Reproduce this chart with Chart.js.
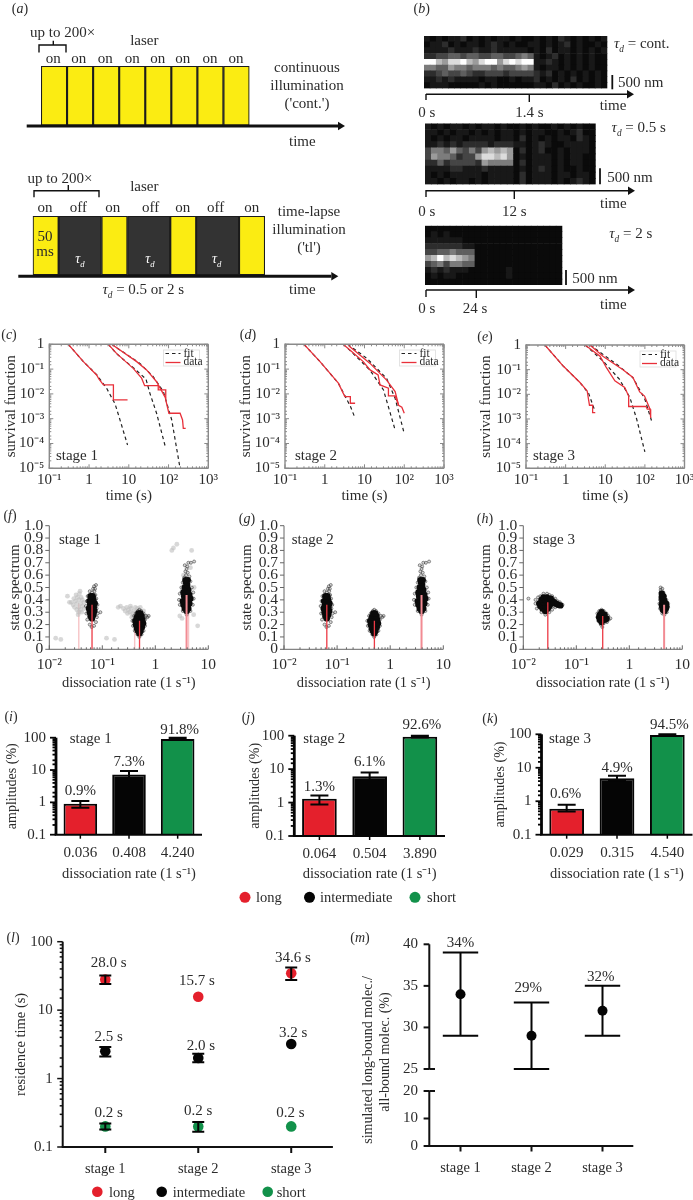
<!DOCTYPE html>
<html>
<head>
<meta charset="utf-8">
<script src="https://cdn.jsdelivr.net/npm/chart.js@4"></script>
<style>
  html, body { margin: 0; background: #fff; }
  #page { position: relative; width: 693px; height: 1200px; overflow: hidden; font-family: "Liberation Serif", serif; color: #2b2b2b; filter: blur(0.3px); }
  #page canvas { position: absolute; }
  .note { position: absolute; white-space: nowrap; line-height: 1; transform: translate(-50%, -50%); }
  .note.left { transform: translate(0, -50%); }
  sub { font-size: .62em; line-height: 0; }
</style>
</head>
<body>
<div id="page"></div>
<script>
// ---- data ----

// (a) illumination schemes, lengths of the frames
const contFrames = [1, 1, 1, 1, 1, 1, 1, 1];
const lapseFrames = [1, 1.65, 1, 1.65, 1, 1.65, 1];

// (b) kymographs, one string per pixel row, 0-9 brightness
const kymoCont = [
  '101011201010110100101021010101',
  '011201011012101001101012010010',
  '111121112112111110102011010101',
  '223344344334433454101201010100',
  '997688976899689899112101010100',
  '554465545554544565101101010100',
  '223433432233323333212010101010',
  '112121111011001011201010201010',
  '011100000101000000110201010010',
];
const kymoHalf = [
  '101011010110100101001010100',
  '110101101010110101100101200',
  '101011011110110201010110210',
  '112121222212221101210011110',
  '355464353676760201200101110',
  '365542336887860101110101100',
  '224233332655550201110101100',
  '111122111211110101210100100',
  '101011111011110201110110110',
  '110101101011110201110101210',
];
const kymoTwo = [
  '0000000000000000000000',
  '0101000000000000000000',
  '1111110000000000000000',
  '2222221100000000000000',
  '3344544400000000000000',
  '6797876500000000000000',
  '3453554400000000000000',
  '1212111000000100000000',
  '0101100000000100000000',
  '0000000000000000000000',
];

// (c)-(e) survival functions, [time, survival]
const s1DataA = [[0.3,1],[0.72,0.2],[1.55,0.058],[1.78,0.039],[2.3,0.023],[4.1,0.023],[4.1,0.0057],[9.3,0.0057]];
const s1FitA = [[0.3,1],[0.72,0.2],[1.55,0.06],[2.76,0.017],[4.5,0.004],[6,0.0009],[9.3,0.000087]];
const s1DataB = [[3.05,1],[4.9,0.43],[12.9,0.107],[21,0.043],[25,0.0215],[55,0.0215],[55,0.0145],[85,0.0145],[85,0.0057],[102,0.00166],[195,0.00166],[225,0.00089],[235,0.00041],[270,0.00041]];
const s1FitB = [[3.05,1],[4.9,0.42],[12.9,0.115],[27,0.04],[34,0.0105],[50,0.00166],[85,0.000064]];
const s1DataC = [[3.7,1],[15.8,0.2],[28,0.093],[50,0.031],[85,0.0066]];
const s1FitC = [[3.7,1],[19,0.17],[41,0.05],[74,0.0125],[120,0.0009],[195,0.00001]];

const s2DataA = [[0.3,1],[0.76,0.2],[2.2,0.027],[3.2,0.0078],[4.4,0.0078],[4.4,0.0042],[5.8,0.0042]];
const s2FitA = [[0.3,1],[0.76,0.2],[2.2,0.027],[3.2,0.0085],[4.4,0.0032],[5.8,0.00105]];
const s2DataB = [[2.9,1],[4.3,0.59],[9.3,0.2],[13.8,0.093],[22,0.058],[24.6,0.023],[40,0.017],[40,0.0083],[59,0.0083],[72,0.0035],[87,0.0029],[100,0.00166]];
const s2FitB = [[2.9,1],[4.3,0.57],[13.8,0.09],[30,0.0145],[59,0.00035]];
const s2DataC = [[3.8,1],[4.3,0.8],[13.8,0.17],[36,0.036],[59,0.0125],[72,0.0035]];
const s2FitC = [[3.8,1],[11.5,0.27],[36,0.042],[59,0.0066],[100,0.00025]];

const s3DataA = [[0.3,1],[0.87,0.14],[2.3,0.03],[3.5,0.0137],[4,0.0036],[4.8,0.0036],[4.8,0.0018],[5.6,0.0018]];
const s3FitA = [[0.3,1],[0.87,0.14],[2.3,0.03],[3.8,0.011],[5.5,0.0021]];
const s3DataB = [[3.1,1],[7.4,0.35],[10.7,0.12],[17.5,0.035],[31,0.019],[39,0.0085],[39,0.0032],[107,0.0032],[115,0.0025],[135,0.0025],[140,0.0011]];
const s3FitB = [[3.1,1],[8.9,0.22],[23,0.04],[42,0.0073],[62,0.001],[100,0.000046]];
const s3DataC = [[4.1,1],[8.9,0.34],[28,0.1],[50,0.048],[74,0.0125],[98,0.0085],[135,0.0025]];
const s3FitC = [[4.1,1],[19.5,0.165],[50,0.047],[100,0.0063],[148,0.00083]];

// (f)-(h) state spectrum, [rate, spectrum]
const stage1Grey = [
  [0.036,0.30],[0.033,0.32],[0.039,0.32],[0.030,0.34],[0.036,0.34],[0.042,0.35],[0.028,0.36],[0.033,0.37],[0.039,0.37],[0.045,0.38],
  [0.026,0.38],[0.031,0.39],[0.036,0.40],[0.042,0.40],[0.029,0.41],[0.034,0.42],[0.040,0.42],[0.032,0.44],[0.037,0.45],[0.035,0.28],
  [0.041,0.30],[0.022,0.43],[0.024,0.38],[0.046,0.33],[0.038,0.47],[0.0132,0.09],[0.0165,0.08],
  [0.20,0.34],[0.22,0.35],[0.25,0.33],[0.27,0.31],[0.29,0.34],[0.31,0.32],[0.33,0.30],[0.35,0.33],[0.37,0.29],[0.38,0.27],[0.40,0.31],
  [0.42,0.34],[0.44,0.30],[0.46,0.33],[0.48,0.28],[0.50,0.31],[0.54,0.30],[0.60,0.31],[0.66,0.27],[0.30,0.29],[0.36,0.26],[0.42,0.25],
  [0.34,0.35],[0.52,0.34],[0.62,0.26],[0.12,0.09],[0.17,0.08],
  [2.05,0.80],[2.2,0.82],[2.55,0.85],[4.85,0.80],[6.3,0.19],[2.9,0.27],[3.2,0.25],[5.3,0.28],[3.4,0.6],[4.6,0.66],[3.2,0.47],[5.4,0.5],
];
const stage2Core = [
  [0.064,0.25],[0.060,0.27],[0.068,0.28],[0.058,0.30],[0.066,0.30],[0.071,0.31],[0.062,0.33],[0.056,0.33],[0.069,0.34],[0.065,0.36],
  [0.059,0.36],[0.072,0.37],[0.063,0.38],[0.057,0.39],[0.068,0.40],[0.062,0.41],[0.066,0.43],[0.060,0.43],
  [0.50,0.13],[0.47,0.15],[0.53,0.15],[0.45,0.17],[0.50,0.18],[0.56,0.18],[0.43,0.20],[0.48,0.20],[0.53,0.21],[0.59,0.21],[0.42,0.23],
  [0.47,0.24],[0.52,0.24],[0.57,0.24],[0.45,0.26],[0.50,0.27],[0.55,0.27],[0.48,0.29],[0.52,0.29],
  [3.9,0.31],[3.6,0.33],[4.2,0.33],[3.4,0.36],[3.9,0.36],[4.4,0.37],[3.3,0.39],[3.7,0.40],[4.2,0.40],[4.6,0.41],[3.5,0.43],[3.9,0.44],
  [4.4,0.44],[3.4,0.46],[3.8,0.48],[4.2,0.48],[3.6,0.50],[4.0,0.52],[3.8,0.54],[4.1,0.56],[3.7,0.56],
];
const stage2Edge = [
  [0.063,0.18],[0.058,0.20],[0.070,0.19],[0.076,0.22],[0.052,0.24],[0.079,0.26],[0.050,0.29],[0.082,0.29],[0.078,0.33],[0.049,0.35],
  [0.081,0.36],[0.051,0.39],[0.077,0.41],[0.053,0.43],[0.074,0.44],[0.071,0.47],[0.064,0.46],[0.058,0.47],[0.067,0.49],[0.073,0.49],
  [0.070,0.51],[0.076,0.52],[0.092,0.30],
  [0.50,0.10],[0.46,0.12],[0.55,0.12],[0.41,0.15],[0.60,0.15],[0.38,0.19],[0.64,0.19],[0.37,0.23],[0.64,0.24],[0.71,0.26],[0.67,0.27],
  [0.40,0.27],[0.43,0.29],[0.60,0.29],[0.47,0.31],[0.54,0.31],[0.50,0.32],[0.75,0.27],
  [3.9,0.28],[3.3,0.31],[4.6,0.31],[2.9,0.36],[5.1,0.36],[2.8,0.40],[5.3,0.41],[2.9,0.45],[5.2,0.46],[3.1,0.50],[4.9,0.50],[3.3,0.54],
  [4.6,0.55],[3.5,0.58],[4.4,0.59],[3.8,0.60],[4.1,0.62],[3.7,0.63],[3.9,0.65],[4.0,0.67],[3.6,0.68],[4.7,0.70],[5.4,0.71],[4.2,0.70],
];
const stage3Core = [
  [0.026,0.31],[0.023,0.33],[0.029,0.33],[0.021,0.35],[0.026,0.35],[0.031,0.35],[0.020,0.37],[0.024,0.38],[0.029,0.38],[0.034,0.37],
  [0.022,0.40],[0.026,0.40],[0.031,0.40],[0.036,0.39],[0.024,0.42],[0.028,0.42],[0.033,0.41],[0.041,0.37],[0.038,0.38],[0.045,0.36],[0.050,0.355],
  [0.30,0.22],[0.28,0.24],[0.32,0.24],[0.35,0.24],[0.27,0.26],[0.30,0.26],[0.33,0.26],[0.37,0.25],[0.28,0.28],[0.31,0.28],[0.34,0.28],[0.30,0.30],
  [4.6,0.31],[4.3,0.32],[4.9,0.33],[4.2,0.34],[4.6,0.34],[5.0,0.35],[4.1,0.36],[4.5,0.37],[4.9,0.37],[4.2,0.39],[4.5,0.40],[4.1,0.42],[4.4,0.43],[4.1,0.45],
];
const stage3Edge = [
  [0.026,0.28],[0.022,0.30],[0.031,0.30],[0.018,0.33],[0.035,0.32],[0.017,0.37],[0.040,0.34],[0.017,0.40],[0.019,0.42],[0.021,0.43],
  [0.024,0.45],[0.028,0.45],[0.031,0.44],[0.035,0.43],[0.040,0.41],[0.044,0.39],[0.049,0.38],[0.053,0.35],[0.055,0.36],[0.0125,0.41],[0.037,0.35],
  [0.31,0.18],[0.29,0.20],[0.33,0.21],[0.26,0.23],[0.38,0.22],[0.25,0.26],[0.41,0.24],[0.44,0.25],[0.40,0.27],[0.25,0.29],[0.37,0.29],[0.27,0.31],[0.33,0.31],[0.30,0.32],
  [4.6,0.28],[4.2,0.29],[5.1,0.30],[3.8,0.33],[5.4,0.34],[3.7,0.37],[5.4,0.37],[3.8,0.40],[5.0,0.40],[3.9,0.43],[4.7,0.43],[3.9,0.46],[4.4,0.46],[3.9,0.48],[4.2,0.49],[3.9,0.50],
];
const stage1Rates = [0.036, 0.408, 4.24];
const stage1Heights = [0.37, 0.28, 0.38];
const stage2Rates = [0.064, 0.504, 3.89];
const stage2Heights = [0.36, 0.23, 0.44];
const stage3Rates = [0.029, 0.315, 4.54];
const stage3Heights = [0.38, 0.27, 0.36];

// (i)-(k) amplitudes
const stage1Labels = ['0.036', '0.408', '4.240'];
const stage1Amp = [0.9, 7.3, 91.8];
const stage1Lo = [0.68, 5.7, 88];
const stage1Hi = [1.1, 9.3, 100];
const stage1Text = ['0.9%', '7.3%', '91.8%'];
const stage2Labels = ['0.064', '0.504', '3.890'];
const stage2Amp = [1.3, 6.1, 92.6];
const stage2Lo = [0.88, 4.7, 88];
const stage2Hi = [1.64, 7.9, 100];
const stage2Text = ['1.3%', '6.1%', '92.6%'];
const stage3Labels = ['0.029', '0.315', '4.540'];
const stage3Amp = [0.6, 4.9, 94.5];
const stage3Lo = [0.49, 4.2, 90];
const stage3Hi = [0.78, 5.75, 100];
const stage3Text = ['0.6%', '4.9%', '94.5%'];

// (l) residence times
const stages = ['stage 1', 'stage 2', 'stage 3'];
const longTime = [28.0, 15.7, 34.6];
const longLo = [24, null, 27.6];
const longHi = [32, null, 42];
const longText = ['28.0 s', '15.7 s', '34.6 s'];
const interTime = [2.5, 2.0, 3.2];
const interLo = [2.1, 1.73, null];
const interHi = [2.9, 2.3, null];
const interText = ['2.5 s', '2.0 s', '3.2 s'];
const shortTime = [0.2, 0.2, 0.2];
const shortLo = [0.18, 0.167, null];
const shortHi = [0.22, 0.232, null];
const shortText = ['0.2 s', '0.2 s', '0.2 s'];

// (m) simulated long-bound fraction
const simFraction = [34, 29, 32];
const simLo = [29, 25, 29];
const simHi = [39, 33, 35];
const simText = ['34%', '29%', '32%'];

// ---- colours ----
const RED = '#e4202c';
const BLACK = '#050505';
const GREEN = '#12914a';
const YELLOW = '#fbec12';

// ---- helpers ----
Chart.defaults.font.family = '"Liberation Serif", serif';
Chart.defaults.font.size = 15;
Chart.defaults.color = '#2b2b2b';

const page = document.getElementById('page');
const xy = pairs => pairs.map(p => ({ x: p[0], y: p[1] }));

function isDecade(v) {
  const e = Math.log10(v);
  return Math.abs(e - Math.round(e)) < 1e-6;
}
function powerLabel(v) {
  if (!isDecade(v)) return '';
  const e = Math.round(Math.log10(v));
  if (e === 0) return '1';
  if (e === 1) return '10';
  const sup = { '-': '⁻', 1: '¹', 2: '²', 3: '³', 4: '⁴', 5: '⁵' };
  return '10' + String(e).split('').map(c => sup[c]).join('');
}
function plainLogLabel(v) {
  if (!isDecade(v)) return '';
  return v < 1 ? '0.1' : String(Math.round(v));
}

// ticks and axis lines are drawn here so they can point inwards, and minor ticks can be shorter
const axisMarks = {
  id: 'axisMarks',
  afterDatasetsDraw(chart, args, o) {
    if (!o.color) return;
    const { ctx, chartArea: a } = chart;
    const sx = chart.scales.x, sy = chart.scales.y;
    const left = a.left + (o.insetL || 0), right = a.right - (o.insetR || 0);
    ctx.save();
    ctx.strokeStyle = o.color;
    const seg = (x0, y0, x1, y1) => { ctx.beginPath(); ctx.moveTo(x0, y0); ctx.lineTo(x1, y1); ctx.stroke(); };
    const major = (s, t) => s.type !== 'logarithmic' || isDecade(t.value);
    if (o.yw) {
      ctx.lineWidth = o.yw;
      seg(left, a.top - o.yw / 2 * (o.box ? 1 : 0), left, a.bottom);
      ctx.lineWidth = o.ytw || 1;
      sy.ticks.forEach(t => {
        const p = sy.getPixelForValue(t.value);
        const len = major(sy, t) ? o.yMajor : o.yMinor;
        seg(left, p, left + o.yDir * len, p);
        if (o.box) seg(right, p, right - o.yDir * len, p);
        if (o.both && o.both.includes(t.value)) seg(left, p, left + 5.7, p);
      });
    }
    if (o.xw) {
      ctx.lineWidth = o.xw;
      seg(left - (o.yw || 0) / 2, a.bottom, right, a.bottom);
      ctx.lineWidth = o.xtw || 1;
      sx.ticks.forEach(t => {
        const p = sx.getPixelForValue(t.value);
        const len = major(sx, t) ? o.xMajor : o.xMinor;
        seg(p, a.bottom, p, a.bottom + o.xDir * len);
        if (o.box) seg(p, a.top, p, a.top - o.xDir * len);
      });
    }
    if (o.box) {
      ctx.lineWidth = o.yw;
      seg(left, a.top, right, a.top);
      seg(right, a.top, right, a.bottom);
    }
    ctx.restore();
  },
};

// whiskers and the value labels above bars and points, taken from fields on the dataset
const whiskers = {
  id: 'whiskers',
  afterDatasetsDraw(chart) {
    const ctx = chart.ctx, sy = chart.scales.y;
    chart.data.datasets.forEach((ds, i) => {
      const meta = chart.getDatasetMeta(i);
      ctx.save();
      ctx.strokeStyle = '#050505';
      ctx.lineWidth = ds.errWidth || 2;
      if (ds.errLo) ds.errLo.forEach((lo, j) => {
        if (lo == null) return;
        const x = meta.data[j].x, c = ds.errCap;
        const y0 = sy.getPixelForValue(lo), y1 = sy.getPixelForValue(ds.errHi[j]);
        ctx.beginPath();
        ctx.moveTo(x, y0); ctx.lineTo(x, y1);
        ctx.moveTo(x - c, y0); ctx.lineTo(x + c, y0);
        ctx.moveTo(x - c, y1); ctx.lineTo(x + c, y1);
        ctx.stroke();
      });
      if (ds.valueText) {
        ctx.fillStyle = '#2b2b2b';
        ctx.font = '15px "Liberation Serif", serif';
        ctx.textAlign = 'center';
        ctx.textBaseline = 'middle';
        ds.valueText.forEach((txt, j) => {
          const top = ds.errHi && ds.errHi[j] != null ? sy.getPixelForValue(ds.errHi[j]) : meta.data[j].y;
          const markTop = meta.data[j].y - (ds.pointRadius || 0);
          ctx.fillText(txt, meta.data[j].x + (ds.valueDx ? ds.valueDx[j] : 0), Math.min(top, markTop) - ds.valueLift[j]);
        });
      }
      ctx.restore();
    });
  },
};
Chart.register(axisMarks, whiskers);

// put one chart on the page with its plot area at rect (page pixels)
function panel(rect, m, cfg, titles) {
  const cl = Math.floor(rect.l - m.l), ct = Math.floor(rect.t - m.t);
  const w = Math.ceil(rect.r + m.r) - cl, h = Math.ceil(rect.b + m.b) - ct;
  const canvas = document.createElement('canvas');
  canvas.width = w;
  canvas.height = h;
  canvas.style.left = cl + 'px';
  canvas.style.top = ct + 'px';
  page.appendChild(canvas);

  const sc = cfg.options.scales;
  sc.y.afterFit = s => { s.width = rect.l - cl; s.paddingTop = 0; s.paddingBottom = 0; };
  sc.x.afterFit = s => { s.height = ct + h - rect.b; s.paddingLeft = 0; s.paddingRight = 0; };
  sc.x.grid = { display: false, drawTicks: false };
  sc.y.grid = { display: false, drawTicks: false };
  sc.x.border = { display: false };
  sc.y.border = { display: false };
  if (titles && titles.y) {
    const size = titles.y[2] || 14;
    sc.y.title = { display: true, text: titles.y[0], font: { size }, padding: { top: titles.y[1] - cl - size * 0.6, bottom: 0 } };
  }
  if (titles && titles.x) {
    const size = titles.x[2] || 14.5;
    sc.x.title = { display: true, text: titles.x[0], font: { size }, padding: { bottom: ct + h - titles.x[1] - size * 0.6, top: 0 } };
  }
  cfg.options.responsive = false;
  cfg.options.animation = false;
  cfg.options.devicePixelRatio = 1;
  cfg.options.events = [];
  cfg.options.layout = { padding: { top: rect.t - ct, right: cl + w - rect.r, left: 0, bottom: 0 } };
  cfg.options.plugins = cfg.options.plugins || {};
  cfg.options.plugins.legend = { display: false };
  cfg.options.plugins.tooltip = { enabled: false };
  return new Chart(canvas, cfg);
}

const noTicks = { display: false };

function frameChart(rect, frames, colours) {
  const datasets = frames.map((d, i) => ({
    data: [d], backgroundColor: colours[i], borderColor: '#1c1c1c', borderWidth: 1.4,
    barPercentage: 1, categoryPercentage: 1, borderSkipped: false,
  }));
  panel(rect, { l: 2, t: 2, r: 2, b: 2 }, {
    type: 'bar',
    data: { labels: ['frames'], datasets },
    options: {
      indexAxis: 'y',
      scales: {
        x: { stacked: true, min: 0, max: frames.reduce((a, b) => a + b, 0), ticks: noTicks },
        y: { stacked: true, ticks: noTicks },
      },
    },
  });
}

function kymograph(rect, rows) {
  const cols = rows[0].split('').map((c, i) => i);
  const datasets = rows.slice().reverse().map(r => ({
    data: cols.map(() => 1),
    backgroundColor: r.split('').map(c => { const g = Math.round(10 + 245 * Math.pow(Number(c) / 9, 1.3)); return `rgb(${g},${g},${g})`; }),
    barPercentage: 1, categoryPercentage: 1,
  }));
  const chart = panel(rect, { l: 0, t: 0, r: 0, b: 0 }, {
    type: 'bar',
    data: { labels: cols, datasets },
    options: {
      scales: {
        x: { stacked: true, ticks: noTicks },
        y: { stacked: true, min: 0, max: rows.length, ticks: noTicks },
      },
    },
  });
  chart.canvas.style.filter = 'blur(0.6px)';
}

const fitLine = d => ({ data: xy(d), borderColor: '#222', borderWidth: 1.2, borderDash: [3.5, 3], pointRadius: 0, showLine: true });
const dataLine = d => ({ data: xy(d), borderColor: '#e8303a', borderWidth: 1.3, pointRadius: 0, showLine: true });

function survival(rect, yTitleX, curvesFit, curvesData) {
  panel(rect, { l: rect.l - yTitleX + 12, t: 8, r: 10, b: 38 }, {
    type: 'scatter',
    data: { datasets: curvesData.map(dataLine).concat(curvesFit.map(fitLine)) },
    options: {
      scales: {
        x: { type: 'logarithmic', min: 0.1, max: 1000, ticks: { autoSkip: false, maxRotation: 0, padding: 3, callback: powerLabel, font: { size: 15 } } },
        y: { type: 'logarithmic', min: 0.00001, max: 1, ticks: { autoSkip: false, padding: 5, callback: powerLabel, font: { size: 15 } } },
      },
      plugins: { axisMarks: { color: '#8a8a8a', yw: 1.4, xw: 1.4, box: true, yDir: 1, xDir: -1, yMajor: 4, yMinor: 2, xMajor: 4, xMinor: 2 } },
    },
  }, { y: ['survival function', yTitleX, 15], x: ['time (s)', 496, 15] });
}

function spectrum(rect, yTitleX, rates, heights, core, edge, grey) {
  const stems = rates.map((r, i) => ({
    data: xy([[r, 0], [r, heights[i]]]), borderColor: i === 2 ? '#f28b93' : '#ec3a45', borderWidth: i === 2 ? 2 : 1.3, pointRadius: 0, showLine: true,
  }));
  const sets = stems.concat([
    { data: xy(core), backgroundColor: '#0a0a0a', borderWidth: 0, pointRadius: 3.2 },
    { data: xy(edge), backgroundColor: 'rgba(60,60,60,.2)', borderColor: '#444', borderWidth: 0.6, pointRadius: 1.5 },
  ]);
  if (grey) {
    sets.push({ data: xy(grey), backgroundColor: 'rgba(190,190,190,.6)', borderWidth: 0, pointRadius: 2.4 });
    stage1Rates.forEach((r, i) => sets.push({ data: xy([[r, 0], [r, stage1Heights[i]]]), borderColor: '#f7c3c6', borderWidth: 1.4, pointRadius: 0, showLine: true }));
  }
  panel(rect, { l: rect.l - yTitleX + 12, t: 8, r: 12, b: 40 }, {
    type: 'scatter',
    data: { datasets: sets },
    options: {
      scales: {
        x: { type: 'logarithmic', min: 0.01, max: 10, ticks: { autoSkip: false, maxRotation: 0, padding: 6, callback: powerLabel, font: { size: 15.5 } } },
        y: { min: 0, max: 1, ticks: { stepSize: 0.1, autoSkip: false, padding: 6, callback: v => (Math.abs(v) < 1e-9 ? '0' : v.toFixed(1)), font: { size: 15.5 } } },
      },
      plugins: { axisMarks: { color: '#666', yw: 1, xw: 1, yDir: -1, xDir: -1, yMajor: 4, yMinor: 4, xMajor: 4, xMinor: 2 } },
    },
  }, { y: ['state spectrum', yTitleX, 15], x: ['dissociation rate (1 s⁻¹)', 683, 14.5] });
}

function amplitudes(rect, yTitleX, titleY, labels, amp, lo, hi, text, lift, dx) {
  panel(rect, { l: rect.l - yTitleX + 12, t: 24, r: 3, b: 50 }, {
    type: 'bar',
    data: {
      labels,
      datasets: [{
        data: amp, backgroundColor: [RED, BLACK, GREEN], borderColor: '#050505', borderWidth: 2,
        barPercentage: 0.69, categoryPercentage: 1,
        errLo: lo, errHi: hi, errCap: 9, valueText: text, valueLift: lift, valueDx: dx,
      }],
    },
    options: {
      scales: {
        x: { ticks: { maxRotation: 0, padding: 9, font: { size: 15 } } },
        y: { type: 'logarithmic', min: 0.1, max: 100, ticks: { autoSkip: false, padding: 10, callback: plainLogLabel, font: { size: 15 } } },
      },
      plugins: { axisMarks: { color: '#050505', yw: 2.8, xw: 2, yDir: -1, xDir: 1, yMajor: 6, yMinor: 3.5, ytw: 1.8, xMajor: 4, xtw: 1.5 } },
    },
  }, { y: ['amplitudes (%)', yTitleX], x: ['dissociation rate (1 s⁻¹)', titleY] });
}

// ---- panels ----
frameChart({ l: 41, r: 249.5, t: 66, b: 125.5 }, contFrames, contFrames.map(() => YELLOW));
frameChart({ l: 32.7, r: 265, t: 216, b: 275 }, lapseFrames, lapseFrames.map((d, i) => (i % 2 ? '#333333' : YELLOW)));

kymograph({ l: 424, r: 607.4, t: 36, b: 88.4 }, kymoCont);
kymograph({ l: 425, r: 595.7, t: 123.4, b: 184.4 }, kymoHalf);
kymograph({ l: 425, r: 562.4, t: 225.7, b: 285 }, kymoTwo);

survival({ l: 49.3, r: 208.3, t: 344.3, b: 468.3 }, 11, [s1FitA, s1FitB, s1FitC], [s1DataA, s1DataB, s1DataC]);
survival({ l: 285, r: 444, t: 344.3, b: 468.3 }, 246, [s2FitA, s2FitB, s2FitC], [s2DataA, s2DataB, s2DataC]);
survival({ l: 526, r: 684.5, t: 345, b: 468.3 }, 486, [s3FitA, s3FitB, s3FitC], [s3DataA, s3DataB, s3DataC]);

spectrum({ l: 49.3, r: 208.3, t: 525.7, b: 649.3 }, 15, stage2Rates, stage2Heights, stage2Core, stage2Edge, stage1Grey);
spectrum({ l: 284, r: 443.3, t: 525.7, b: 649.3 }, 247, stage2Rates, stage2Heights, stage2Core, stage2Edge);
spectrum({ l: 523.3, r: 682.3, t: 525.7, b: 649.3 }, 486, stage3Rates, stage3Heights, stage3Core, stage3Edge);

amplitudes({ l: 56, r: 202, t: 737.7, b: 834.7 }, 12.7, 874.3, stage1Labels, stage1Amp, stage1Lo, stage1Hi, stage1Text, [10, 8.7, 7.3], [0, 0, 2]);
amplitudes({ l: 294.3, r: 445, t: 735.7, b: 836 }, 255, 874.3, stage2Labels, stage2Amp, stage2Lo, stage2Hi, stage2Text, [8.7, 10, 10.7], [0, 0, 2]);
amplitudes({ l: 541.5, r: 692.5, t: 734.3, b: 834.7 }, 500, 874.3, stage3Labels, stage3Amp, stage3Lo, stage3Hi, stage3Text, [11, 7.7, 9.3], [-1, 0, 2]);

// (l)
const dot = (data, colour, lo, hi, text, lift, dx) => ({
  data, type: 'line', showLine: false, pointRadius: 5.3, pointBackgroundColor: colour, pointBorderWidth: 0,
  errLo: lo, errHi: hi, errCap: 6, valueText: text, valueLift: lift, valueDx: dx,
});
panel({ l: 58.8, r: 337.8, t: 941.7, b: 1147 }, { l: 58.8, t: 10, r: 5, b: 30 }, {
  type: 'line',
  data: {
    labels: stages,
    datasets: [
      dot(longTime, RED, longLo, longHi, longText, [11, 10.7, 9.7], [3.3, -1.3, 1.7]),
      dot(interTime, BLACK, interLo, interHi, interText, [9.3, 6.7, 5.7], [3.3, 2.7, 2]),
      dot(shortTime, GREEN, shortLo, shortHi, shortText, [7.7, 10, 7.7], [3.3, 0, -0.7]),
    ],
  },
  options: {
    scales: {
      x: { offset: true, ticks: { maxRotation: 0, padding: 13, font: { size: 14.5 } } },
      y: { type: 'logarithmic', min: 0.1, max: 100, ticks: { autoSkip: false, padding: 6, callback: plainLogLabel, font: { size: 15 } } },
    },
    plugins: { axisMarks: { color: '#111', yw: 2, xw: 2, insetL: 3.9, insetR: 4.8, yDir: -1, xDir: 1, yMajor: 5.5, yMinor: 3, ytw: 1.5, xMajor: 6, xtw: 2 } },
  },
}, { y: ['residence time (s)', 21, 14.5] });

// (m) broken axis: the top piece holds the points, the bottom piece is only the axis
panel({ l: 425, r: 638, t: 944.3, b: 1073.7 }, { l: 30, t: 14, r: 5, b: 0 }, {
  type: 'line',
  data: {
    labels: stages,
    datasets: [{
      data: simFraction, showLine: false, pointRadius: 5, pointBackgroundColor: BLACK, pointBorderWidth: 0,
      errLo: simLo, errHi: simHi, errCap: 17.7, valueText: simText, valueLift: [10, 14, 9.3], valueDx: [0, -3.3, -1.7],
    }],
  },
  options: {
    scales: {
      x: { offset: true, ticks: noTicks },
      y: { min: 25, max: 40, ticks: { stepSize: 5, padding: 7, font: { size: 15 } } },
    },
    plugins: { axisMarks: { color: '#111', yw: 2, insetL: 4.3, insetR: 4.7, yDir: -1, yMajor: 5.7, ytw: 2, both: [25] } },
  },
});
panel({ l: 425, r: 638, t: 1091, b: 1146 }, { l: 30, t: 8, r: 5, b: 30 }, {
  type: 'line',
  data: { labels: stages, datasets: [{ data: [null, null, null] }] },
  options: {
    scales: {
      x: { offset: true, ticks: { maxRotation: 0, padding: 13, font: { size: 14.5 } } },
      y: { min: 0, max: 20, ticks: { stepSize: 5, padding: 7, font: { size: 15 } } },
    },
    plugins: { axisMarks: { color: '#111', yw: 2, xw: 2, insetL: 4.3, insetR: 4.7, yDir: -1, xDir: 1, yMajor: 5.7, ytw: 2, xMajor: 5.5, xtw: 2, both: [20] } },
  },
});

// ---- arrows, brackets, keys ----
const decor = document.createElement('canvas');
decor.width = 693;
decor.height = 1200;
decor.style.left = '0';
decor.style.top = '0';
page.appendChild(decor);
const d = decor.getContext('2d');

function path(points, width, colour) {
  d.beginPath();
  d.strokeStyle = colour || '#111';
  d.lineWidth = width;
  points.forEach((p, i) => (i ? d.lineTo(p[0], p[1]) : d.moveTo(p[0], p[1])));
  d.stroke();
}
function arrow(x0, x1, y, width, head) {
  path([[x0, y], [x1 - head, y]], width);
  d.beginPath();
  d.fillStyle = '#111';
  d.moveTo(x1, y);
  d.lineTo(x1 - head, y - head * 0.6);
  d.lineTo(x1 - head, y + head * 0.6);
  d.fill();
}
function bracket(x0, x1, top, bottom, midX, peak) {
  path([[x0, bottom], [x0, top], [x1, top], [x1, bottom]], 1.4);
  path([[midX, top], [midX, peak]], 1.4);
}
function disc(x, y, r, colour) {
  d.beginPath();
  d.fillStyle = colour;
  d.arc(x, y, r, 0, Math.PI * 2);
  d.fill();
}

arrow(26.7, 345, 126, 3, 7);
arrow(18.3, 338.3, 276.3, 3, 7);
bracket(39, 66, 45, 52.5, 53.3, 40.7);
bracket(34, 99, 190.7, 197.3, 68.3, 185);

arrow(426, 634, 94.3, 1.6, 7);
path([[426, 94], [426, 100]], 1.4); path([[529.3, 94], [529.3, 102]], 1.4);
path([[612.3, 75], [612.3, 89.3]], 1.8);
arrow(426, 635, 190.7, 1.6, 7);
path([[426, 190], [426, 197]], 1.4); path([[514.3, 190], [514.3, 199]], 1.4);
path([[600, 168.3], [600, 184.3]], 1.8);
arrow(426, 635, 290, 1.6, 7);
path([[426, 290], [426, 297]], 1.4); path([[476.3, 290], [476.3, 298]], 1.4);
path([[566, 270], [566, 285]], 1.8);

function fitKey(x, y) {
  d.fillStyle = '#fff';
  d.fillRect(x, y, 36, 16);
  d.strokeStyle = '#ddd';
  d.lineWidth = 0.8;
  d.strokeRect(x, y, 36, 16);
  d.setLineDash([3.5, 3]);
  path([[x + 2, y + 3.5], [x + 17, y + 3.5]], 1.2, '#222');
  d.setLineDash([]);
  path([[x + 2, y + 12.5], [x + 17, y + 12.5]], 1.3, '#e8303a');
}
fitKey(163.5, 350);
fitKey(399.5, 350);
fitKey(640, 351);

disc(245, 897.3, 5.5, RED); disc(309.5, 897.3, 5.5, BLACK); disc(415, 897.3, 5.5, GREEN);
disc(97.3, 1191.7, 5.3, RED); disc(161.7, 1191.7, 5.3, BLACK); disc(267.7, 1191.7, 5.3, GREEN);

// ---- text ----
function note(html, x, y, size, extra) {
  const el = document.createElement('div');
  el.className = 'note' + (extra && extra.left ? ' left' : '');
  el.innerHTML = html;
  el.style.left = x + 'px';
  el.style.top = y + 'px';
  el.style.fontSize = (size || 15) + 'px';
  if (extra && extra.color) el.style.color = extra.color;
  if (extra && extra.rot) el.style.transform = 'translate(-50%,-50%) rotate(-90deg)';
  page.appendChild(el);
}
const TAU = '<i>τ<sub>d</sub></i>';

[['a', 20, 9], ['b', 421.7, 9], ['c', 9, 335], ['d', 248, 335], ['e', 485, 336.7], ['f', 10, 515.7], ['g', 247, 519], ['h', 485, 519.3],
 ['i', 11, 716.7], ['j', 248.3, 717.7], ['k', 490, 719], ['l', 13, 938.3], ['m', 360, 938.3]]
  .forEach(p => note(`(<i>${p[0]}</i>)`, p[1], p[2], 14));

note('up to 200×', 62.7, 32.3);
note('laser', 144.3, 40);
[53.3, 78.7, 105.3, 132.3, 157.7, 182.7, 210, 236].forEach(x => note('on', x, 58.3));
note('continuous', 307, 67.3);
note('illumination', 307, 85);
note("('cont.')", 307, 103.3);
note('time', 302.3, 141);

note('up to 200×', 60, 178.3);
note('laser', 144.3, 186);
[[45, 'on'], [78.3, 'off'], [112.7, 'on'], [150.7, 'off'], [182.7, 'on'], [215.7, 'off'], [251.7, 'on']].forEach(p => note(p[1], p[0], 207.3));
note('time-lapse', 309, 211);
note('illumination', 309, 229);
note("('tl')", 309, 247.3);
note('50', 45, 236);
note('ms', 45, 250.7);
[80, 150, 216.7].forEach(x => note(TAU, x, 258.5, 14, { color: '#fff' }));
note(TAU + ' = 0.5 or 2 s', 143.3, 289.3);
note('time', 302.3, 288.7);

note(TAU + ' = cont.', 641.7, 43);
note('500 nm', 640.7, 81.7);
note('0 s', 426.7, 112);
note('1.4 s', 529.3, 112);
note('time', 613, 105);
note(TAU + ' = 0.5 s', 638.7, 126.7);
note('500 nm', 630, 176.7);
note('0 s', 426.7, 210.7);
note('12 s', 514.3, 210.7);
note('time', 613.3, 202.7);
note(TAU + ' = 2 s', 630.7, 233.3);
note('500 nm', 595, 278.3);
note('0 s', 426.7, 308);
note('24 s', 475, 308);
note('time', 613.3, 304);

[[77, 455], [316, 455], [554, 455], [80, 539], [312.7, 539], [554, 539], [90.7, 737.7], [324.3, 738.3], [570, 738.3]]
  .forEach((p, i) => note('stage ' + (i % 3 + 1), p[0], p[1], 15));

[[183.5, 350], [419.5, 350], [660, 351]].forEach(p => {
  note('fit', p[0], p[1] + 3.8, 11.5, { left: true });
  note('data', p[0], p[1] + 12, 11.5, { left: true });
});

note('long', 256, 897.3, 14.5, { left: true });
note('intermediate', 320, 897.3, 14.5, { left: true });
note('short', 427, 897.3, 14.5, { left: true });
note('long', 109, 1191.7, 14.5, { left: true });
note('intermediate', 172.7, 1191.7, 14.5, { left: true });
note('short', 276.7, 1191.7, 14.5, { left: true });

note('simulated long-bound molec./', 368.3, 1060, 14, { rot: true });
note('all-bound molec. (%)', 385, 1051.7, 14, { rot: true });
</script>
</body>
</html>
